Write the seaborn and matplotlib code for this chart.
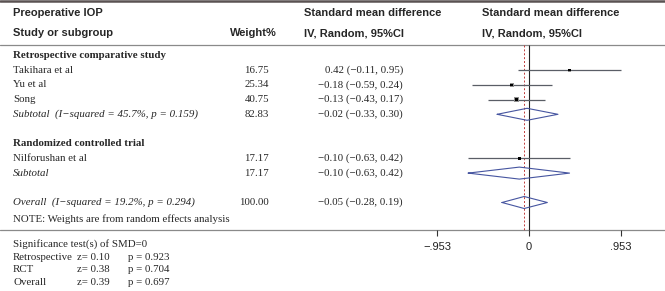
import numpy as np
import pandas as pd
import matplotlib
matplotlib.use("Agg")
import matplotlib.pyplot as plt
import seaborn as sns

# Study-level data (standardised mean difference, 95% CI, weight %)
studies = ['Takihara et al', 'Yu et al', 'Song', 'Nilforushan et al']
smd = [0.42, -0.18, -0.13, -0.10]
ci_lo = [-0.11, -0.59, -0.43, -0.63]
ci_hi = [0.95, 0.24, 0.17, 0.42]
weights = [16.75, 25.34, 40.75, 17.17]
study_rows = [1, 2, 3, 7]

# Pooled estimates (subtotals and overall)
pooled_labels = ['Subtotal  (I\u2212squared = 45.7%, p = 0.159)', 'Subtotal',
                 'Overall  (I\u2212squared = 19.2%, p = 0.294)']
pooled_smd = [-0.02, -0.10, -0.05]
pooled_lo = [-0.33, -0.63, -0.28]
pooled_hi = [0.30, 0.42, 0.19]
pooled_w = [82.83, 17.17, 100.00]
pooled_rows = [4, 8, 10]

groups = ['Retrospective comparative study', 'Randomized controlled trial']
group_rows = [0, 6]

tick_vals = [-0.953, 0, 0.953]
tick_labels = ['\u2212.953', '0', '.953']

sig_labels = ['Retrospective', 'RCT', 'Overall']
sig_z = [0.10, 0.38, 0.39]
sig_p = [0.923, 0.704, 0.697]

df = pd.DataFrame({'study': studies, 'smd': smd, 'lo': ci_lo, 'hi': ci_hi,
                   'w': weights, 'row': study_rows})

sns.set_style("white")
plt.rcParams['font.family'] = ['Liberation Serif', 'DejaVu Serif']

W, H = 665, 291
fig = plt.figure(figsize=(W / 100, H / 100), dpi=100)

# layout helpers (pixels)
ROW0, ROWH = 55.5, 14.7
X0, XS = 529, 96.5


def row_px(r):
    return ROW0 + ROWH * r


def px_row(p):
    return (p - ROW0) / ROWH


# text axes in pixel coordinates
tx = fig.add_axes([0, 0, 1, 1])
tx.set_xlim(0, W)
tx.set_ylim(H, 0)
tx.axis('off')

# forest axes: x = SMD, y = row index
ax = fig.add_axes([0, 0, 1, 1])
ax.set_xlim(-X0 / XS, (W - X0) / XS)
ax.set_ylim(px_row(H), px_row(0))
ax.axis('off')
ax.patch.set_alpha(0)

sans = 'Liberation Sans'
fs = 7.8
hfs = 8.0

# headers
tx.text(13, 13, 'Preoperative IOP', family=sans, weight='bold', fontsize=hfs, va='center')
tx.text(13, 33, 'Study or subgroup', family=sans, weight='bold', fontsize=hfs, va='center')
tx.text(230, 33, 'Weight%', family=sans, weight='bold', fontsize=hfs, va='center')
tx.text(304, 13, 'Standard mean difference', family=sans, weight='bold', fontsize=hfs, va='center')
tx.text(304, 33, 'IV, Random, 95%CI', family=sans, weight='bold', fontsize=hfs, va='center')
tx.text(482, 13, 'Standard mean difference', family=sans, weight='bold', fontsize=hfs, va='center')
tx.text(482, 33, 'IV, Random, 95%CI', family=sans, weight='bold', fontsize=hfs, va='center')

# table lines
tx.plot([0, W], [1.2, 1.2], color='#5a5252', lw=1.8)
tx.plot([0, W], [45, 45], color='#8a8a8a', lw=0.9)
tx.plot([0, W], [230, 230], color='#8a8a8a', lw=0.9)

for g, r in zip(groups, group_rows):
    tx.text(13, row_px(r), g, weight='bold', fontsize=fs, va='center')

for _, s in df.iterrows():
    y = row_px(s['row'])
    tx.text(13, y, s['study'], fontsize=fs, va='center')
    tx.text(269, y, f"{s['w']:.2f}", fontsize=fs, va='center', ha='right')
    tx.text(403, y, f"{s['smd']:.2f} ({s['lo']:.2f}, {s['hi']:.2f})".replace('-', '\u2212'),
            fontsize=fs, va='center', ha='right')

for lab, m, lo, hi, w, r in zip(pooled_labels, pooled_smd, pooled_lo, pooled_hi, pooled_w, pooled_rows):
    y = row_px(r)
    tx.text(13, y, lab, style='italic', fontsize=fs, va='center')
    tx.text(269, y, f"{w:.2f}", fontsize=fs, va='center', ha='right')
    tx.text(403, y, f"{m:.2f} ({lo:.2f}, {hi:.2f})".replace('-', '\u2212'),
            fontsize=fs, va='center', ha='right')

tx.text(13, 219, 'NOTE: Weights are from random effects analysis', fontsize=fs, va='center')

# significance tests
tx.text(13, 244, 'Significance test(s) of SMD=0', fontsize=fs, va='center')
for i, (lab, z, p) in enumerate(zip(sig_labels, sig_z, sig_p)):
    y = 257 + 12.8 * i
    tx.text(13, y, lab, fontsize=fs, va='center')
    tx.text(77, y, f"z= {z:.2f}", fontsize=fs, va='center')
    tx.text(128, y, f"p = {p:.3f}", fontsize=fs, va='center')

# forest plot
y_top, y_bot = px_row(45), px_row(230)
ax.vlines(0, y_top, y_bot, color='#222222', lw=0.8)
ax.vlines(pooled_smd[-1], y_top, y_bot, color='#c03a3a', lw=0.7, linestyles=(0, (2, 2)))

ax.hlines(df['row'], df['lo'], df['hi'], color='#5a5e66', lw=0.9)
sns.scatterplot(data=df, x='smd', y='row', size='w', sizes=(5, 15), marker='s',
                color='#8f8f8f', edgecolor='none', legend=False, ax=ax, zorder=3)
sns.scatterplot(data=df, x='smd', y='row', marker='s', s=3, color='black',
                edgecolor='none', legend=False, ax=ax, zorder=4)

hh = 6 / ROWH
for m, lo, hi, r in zip(pooled_smd, pooled_lo, pooled_hi, pooled_rows):
    ax.plot([lo, m, hi, m, lo], [r, r - hh, r, r + hh, r], color='#4655a0', lw=0.8)

# x ticks
ax.vlines(tick_vals, y_bot, px_row(236), color='#333333', lw=0.8)
for v, lab in zip(tick_vals, tick_labels):
    ax.text(v, px_row(247), lab, family=sans, fontsize=8, ha='center', va='center', color='#222222')

fig.savefig('out.png', dpi=100)
